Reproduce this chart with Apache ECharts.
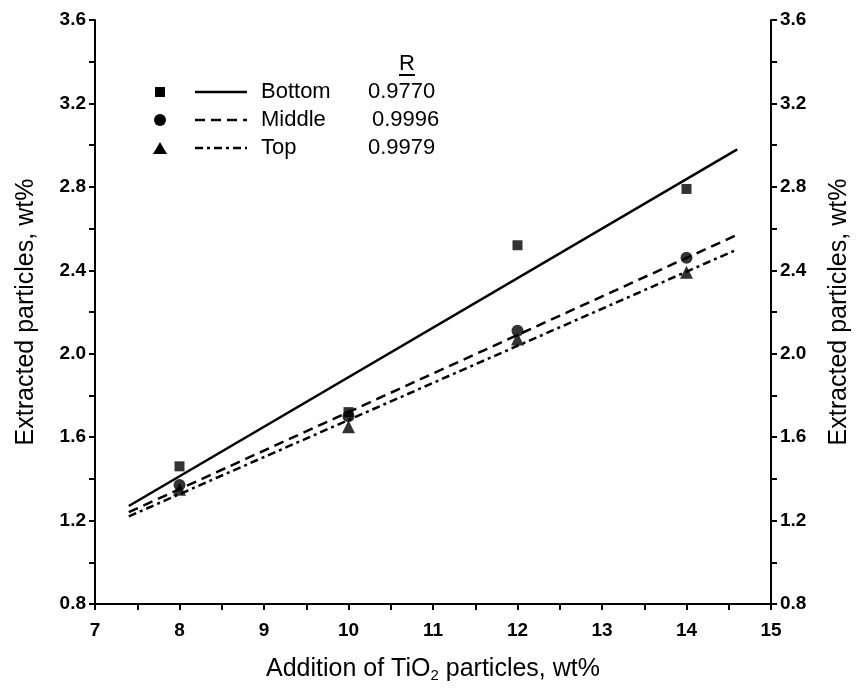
<!DOCTYPE html>
<html>
<head>
<meta charset="utf-8">
<script src="https://cdn.jsdelivr.net/npm/echarts@6/dist/echarts.min.js"></script>
<style>
  html, body { margin: 0; padding: 0; background: #fff; }
  #chart { width: 860px; height: 696px; }
</style>
</head>
<body>
<div id="chart"></div>
<script>
// TiO2 addition levels (wt%)
const additions = [8, 10, 12, 14];
// Extracted particle content at each sampling position (wt%)
const bottomValues = [1.46, 1.72, 2.52, 2.79];
const middleValues = [1.37, 1.70, 2.11, 2.46];
const topValues    = [1.35, 1.65, 2.07, 2.39];
// Linear fit lines: x range and fitted y at both ends
const fitRange     = [7.4, 14.6];
const bottomFit    = [1.27, 2.98];
const middleFit    = [1.24, 2.57];
const topFit       = [1.22, 2.50];
// Key labels and correlation coefficients
const seriesNames  = ['Bottom', 'Middle', 'Top'];
const rValues      = ['0.9770', '0.9996', '0.9979'];

const FONT = 'Liberation Sans, Arial, sans-serif';
const pairs = (xs, ys) => xs.map((x, i) => [x, ys[i]]);

const yAxisBase = {
  type: 'value', min: 0.8, max: 3.6, interval: 0.4,
  splitLine: { show: false },
  axisLine: { show: true, lineStyle: { color: '#000', width: 2 } },
  axisTick: { show: true, inside: false, length: 6, lineStyle: { color: '#000', width: 2 } },
  minorTick: { show: true, splitNumber: 2, length: 6, lineStyle: { color: '#000', width: 2 } },
  axisLabel: { color: '#000', fontFamily: FONT, fontSize: 19, fontWeight: 'bold', margin: 9,
               formatter: v => v.toFixed(1) },
  name: 'Extracted particles, wt%',
  nameLocation: 'middle',
  nameTextStyle: { color: '#000', fontFamily: FONT, fontSize: 25 }
};

const chart = echarts.init(document.getElementById('chart'), null, { renderer: 'canvas' });

// Key: marker, line sample, name and R value for each series
const keyX = { mark: 160, lineFrom: 195, lineTo: 247, name: 261, r: 368 };
const keyRows = [92, 120, 148];
const lineDash = [null, [10, 6], [8, 4, 3, 4]];
const graphics = [];
graphics.push({ type: 'text', x: 407, y: 64,
  style: { text: 'R', font: '22px ' + FONT, fill: '#000', align: 'center', verticalAlign: 'middle' } });
graphics.push({ type: 'line', shape: { x1: 399, y1: 75, x2: 415, y2: 75 },
  style: { stroke: '#000', lineWidth: 2 } });
keyRows.forEach((y, i) => {
  if (i === 0) graphics.push({ type: 'rect', shape: { x: keyX.mark - 5, y: y - 5, width: 10, height: 10 }, style: { fill: '#000' } });
  if (i === 1) graphics.push({ type: 'circle', shape: { cx: keyX.mark, cy: y, r: 6 }, style: { fill: '#000' } });
  if (i === 2) graphics.push({ type: 'polygon', shape: { points: [[keyX.mark, y - 6], [keyX.mark + 7, y + 6], [keyX.mark - 7, y + 6]] }, style: { fill: '#000' } });
  graphics.push({ type: 'line', shape: { x1: keyX.lineFrom, y1: y, x2: keyX.lineTo, y2: y },
    style: { stroke: '#000', lineWidth: 2.5, lineDash: lineDash[i] } });
  graphics.push({ type: 'text', x: keyX.name, y: y, style: { text: seriesNames[i], font: '22px ' + FONT,
    fill: '#000', verticalAlign: 'middle' } });
  graphics.push({ type: 'text', x: keyX.r + (i === 1 ? 4 : 0), y: y, style: { text: rValues[i], font: '22px ' + FONT,
    fill: '#000', verticalAlign: 'middle' } });
});

const fitLine = (vals, dash) => ({
  type: 'line', data: pairs(fitRange, vals), showSymbol: false, symbol: 'none',
  silent: true, animation: false,
  lineStyle: { color: '#000', width: 2.5, type: dash || 'solid' }
});
const scatter = (vals, symbol, size) => ({
  type: 'scatter', data: pairs(additions, vals), symbol: symbol, symbolSize: size,
  itemStyle: { color: '#000' }, animation: false
});

chart.setOption({
  backgroundColor: '#fff',
  animation: false,
  grid: { left: 95, right: 85, top: 20, bottom: 92 },
  xAxis: {
    type: 'value', min: 7, max: 15, interval: 1,
    splitLine: { show: false },
    axisLine: { show: true, onZero: false, lineStyle: { color: '#000', width: 2 } },
    axisTick: { show: true, length: 6, lineStyle: { color: '#000', width: 2 } },
    minorTick: { show: true, splitNumber: 2, length: 6, lineStyle: { color: '#000', width: 2 } },
    axisLabel: { color: '#000', fontFamily: FONT, fontSize: 19, fontWeight: 'bold', margin: 17 },
    name: '{a|Addition of TiO}{s|2}{a| particles, wt%}',
    nameLocation: 'middle', nameGap: 50,
    nameTextStyle: {
      rich: {
        a: { color: '#000', fontFamily: FONT, fontSize: 25, lineHeight: 30 },
        s: { color: '#000', fontFamily: FONT, fontSize: 15, lineHeight: 30, padding: [14, 0, 0, 0] }
      }
    }
  },
  yAxis: [
    Object.assign({}, yAxisBase, { position: 'left', nameGap: 56, nameRotate: 90 }),
    Object.assign({}, yAxisBase, { position: 'right', nameGap: 56, nameRotate: 90 })
  ],
  graphic: graphics,
  series: [
    fitLine(bottomFit),
    fitLine(middleFit, [10, 6]),
    fitLine(topFit, [8, 4, 3, 4]),
    scatter(bottomValues, 'rect', 10),
    scatter(middleValues, 'circle', 12),
    scatter(topValues, 'triangle', 13)
  ]
});
</script>
</body>
</html>
